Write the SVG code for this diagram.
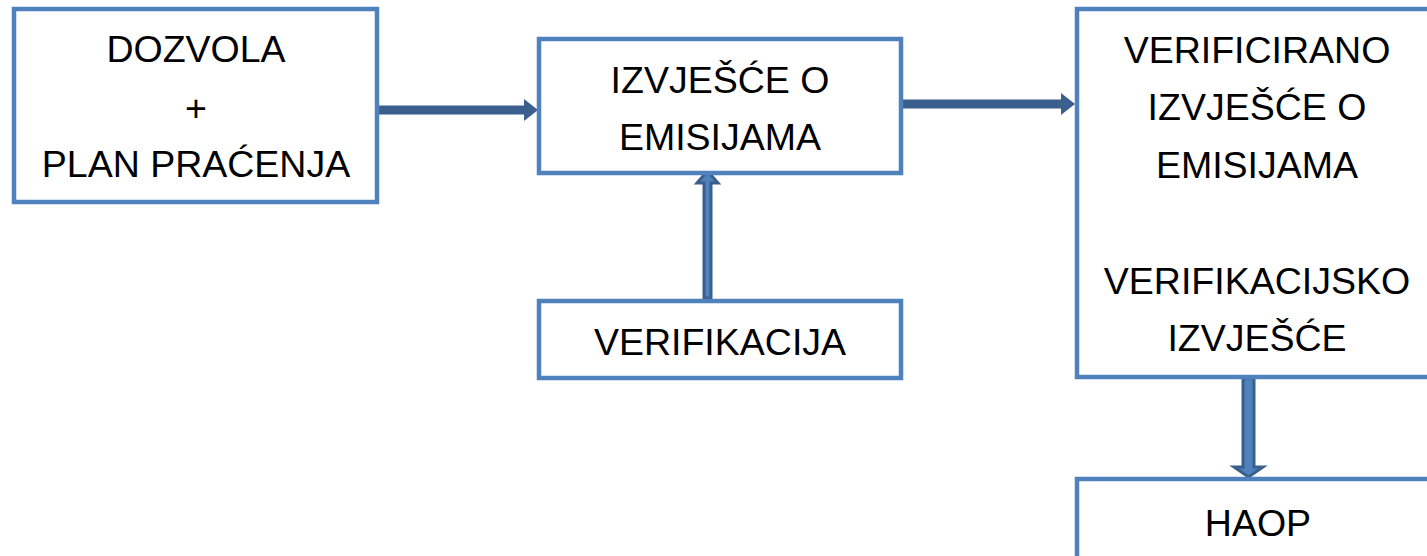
<svg xmlns="http://www.w3.org/2000/svg" width="1427" height="556" viewBox="0 0 1427 556">
<style>
.box{fill:#fff;stroke:#4F81BD;stroke-width:4.5}
.t{font-family:"Liberation Sans",Arial,sans-serif;font-size:37.5px;fill:#000;text-anchor:middle}
.ln{stroke:#3B5F8D;stroke-width:9;fill:none}
.hd{fill:#3B5F8D}
.blk{fill:#4F81BD;stroke:#3B5F8D;stroke-width:3;stroke-linejoin:miter}
</style>
<rect width="1427" height="556" fill="#fff"/>
<g id="connectors">
<line class="ln" x1="378" y1="110" x2="527" y2="110"/>
<polygon class="hd" points="524,99 538,110 524,121"/>
<line class="ln" x1="902" y1="104" x2="1064" y2="104"/>
<polygon class="hd" points="1061,93 1075,104 1061,115"/>
<polygon class="blk" points="704,298 704,183 697,183 707.5,171 718,183 711,183 711,298"/>
<polygon class="blk" points="1243,378 1243,467 1234,467 1248.5,477 1263,467 1254,467 1254,378"/>
</g>
<g id="dozvola">
<rect class="box" x="14" y="9" width="363" height="193"/>
<text class="t" x="196" y="62">DOZVOLA</text>
<text class="t" x="196" y="121">+</text>
<text class="t" x="196" y="177">PLAN PRAĆENJA</text>
</g>
<g id="izvjesce">
<rect class="box" x="539" y="39" width="362" height="134"/>
<text class="t" x="720" y="93">IZVJEŠĆE O</text>
<text class="t" x="720" y="150">EMISIJAMA</text>
</g>
<g id="verifikacija">
<rect class="box" x="539" y="301" width="362" height="77"/>
<text class="t" x="720" y="355">VERIFIKACIJA</text>
</g>
<g id="verificirano">
<rect class="box" x="1077" y="9" width="364" height="368"/>
<text class="t" x="1257" y="63">VERIFICIRANO</text>
<text class="t" x="1257" y="120">IZVJEŠĆE O</text>
<text class="t" x="1257" y="178">EMISIJAMA</text>
<text class="t" x="1257" y="294">VERIFIKACIJSKO</text>
<text class="t" x="1257" y="351">IZVJEŠĆE</text>
</g>
<g id="haop">
<rect class="box" x="1077" y="479" width="364" height="90"/>
<text class="t" x="1258" y="536">HAOP</text>
</g>
</svg>
